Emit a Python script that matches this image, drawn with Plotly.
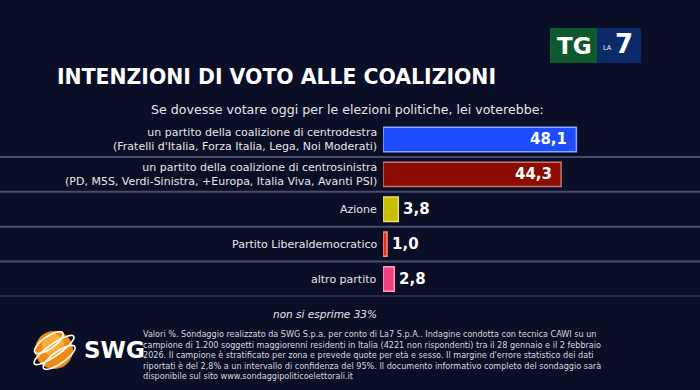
import math
import plotly.graph_objects as go

# ---------------- data ----------------
categories = [
    "un partito della coalizione di centrodestra<br>(Fratelli d'Italia, Forza Italia, Lega, Noi Moderati)",
    "un partito della coalizione di centrosinistra<br>(PD, M5S, Verdi-Sinistra, +Europa, Italia Viva, Avanti PSI)",
    "Azione",
    "Partito Liberaldemocratico",
    "altro partito",
]
values = [48.1, 44.3, 3.8, 1.0, 2.8]
bar_colors = ["#1c4eff", "#8a0c03", "#c9bd00", "#d9331f", "#f23f7d"]
border_colors = ["#8fa6ff", "#c8776f", "#e9e07a", "#ff8a78", "#ff9fc0"]

title = "INTENZIONI DI VOTO ALLE COALIZIONI"
subtitle = "Se dovesse votare oggi per le elezioni politiche, lei voterebbe:"
no_answer = "non si esprime 33%"
footnote_lines = [
    "Valori %. Sondaggio realizzato da SWG S.p.a. per conto di La7 S.p.A.. Indagine condotta con tecnica CAWI su un",
    "campione di 1.200 soggetti maggiorenni residenti in Italia (4221 non rispondenti) tra il 28 gennaio e il 2 febbraio",
    "2026. Il campione è stratificato per zona e prevede quote per età e sesso. Il margine d'errore statistico dei dati",
    "riportati è del 2,8% a un intervallo di confidenza del 95%. Il documento informativo completo del sondaggio sarà",
    "disponibile sul sito www.sondaggipoliticoelettorali.it",
]

# ---------------- geometry helpers ----------------
W, H = 700, 390
BG = "#0a0e26"


def px(x):
    return x / W


def py(y):
    return 1 - y / H


fig = go.Figure()

fig.add_trace(go.Bar(
    y=categories,
    x=values,
    orientation="h",
    marker=dict(color=bar_colors, line=dict(color=border_colors, width=1.5)),
    hoverinfo="skip",
    showlegend=False,
))

annotations = []
shapes = []

# row labels and value labels
for cat, v in zip(categories, values):
    annotations.append(dict(
        x=px(379), xref="paper", y=cat, yref="y",
        text=cat, showarrow=False, xanchor="right", yanchor="middle", align="right",
        font=dict(family="DejaVu Sans", size=11, color="#e6e6ea"),
    ))
    txt = f"{v:.1f}".replace(".", ",")
    inside = v * 4.02 > 50
    annotations.append(dict(
        x=v, xref="x", y=cat, yref="y", text=f"<b>{txt}</b>", showarrow=False,
        xanchor="right" if inside else "left", xshift=-7 if inside else 3,
        yanchor="middle",
        font=dict(family="DejaVu Sans", size=15, color="white"),
    ))

# separators below each row
for i in range(len(categories)):
    shapes.append(dict(type="line", xref="paper", x0=0, x1=1, yref="y",
                       y0=i + 0.5, y1=i + 0.5, line=dict(color="#484d6e", width=2),
                       layer="below"))

# title & subtitle
annotations.append(dict(x=px(55), y=py(77), xref="paper", yref="paper", text=f"<b>{title}</b>",
                        showarrow=False, xanchor="left", yanchor="middle",
                        font=dict(family="DejaVu Sans", size=20.4, color="white")))
annotations.append(dict(x=px(149), y=py(109), xref="paper", yref="paper", text=subtitle,
                        showarrow=False, xanchor="left", yanchor="middle",
                        font=dict(family="DejaVu Sans", size=12.6, color="#e6e6ea")))
annotations.append(dict(x=px(379), y=py(314), xref="paper", yref="paper", text=f"<i>{no_answer}</i>",
                        showarrow=False, xanchor="right", yanchor="middle",
                        font=dict(family="DejaVu Sans", size=10.5, color="#e6e6ea")))
annotations.append(dict(x=px(141), y=py(355), xref="paper", yref="paper",
                        text="<br>".join(footnote_lines), showarrow=False,
                        xanchor="left", yanchor="middle", align="left",
                        font=dict(family="DejaVu Sans", size=8.1, color="#d8d8de")))

# TG LA7 logo
shapes.append(dict(type="rect", xref="paper", yref="paper", x0=px(550), x1=px(597),
                   y0=py(63), y1=py(28), fillcolor="#0e5a2c", line=dict(width=0)))
shapes.append(dict(type="rect", xref="paper", yref="paper", x0=px(597), x1=px(641),
                   y0=py(63), y1=py(28), fillcolor="#0b2a68", line=dict(width=0)))
annotations.append(dict(x=px(574), y=py(45.5), xref="paper", yref="paper", text="<b>TG</b>",
                        showarrow=False, xanchor="center", yanchor="middle",
                        font=dict(family="DejaVu Sans", size=23, color="white")))
annotations.append(dict(x=px(607), y=py(48), xref="paper", yref="paper", text="LA",
                        showarrow=False, xanchor="center", yanchor="middle",
                        font=dict(family="DejaVu Sans", size=6.5, color="white")))
annotations.append(dict(x=px(624), y=py(44), xref="paper", yref="paper", text="<b>7</b>",
                        showarrow=False, xanchor="center", yanchor="middle",
                        font=dict(family="DejaVu Sans", size=26, color="white")))

# SWG logo: sphere with orbit rings
cx, cy, r = 54, 350, 19
shapes.append(dict(type="circle", xref="paper", yref="paper", x0=px(cx - r), x1=px(cx + r),
                   y0=py(cy + r), y1=py(cy - r), fillcolor="#ef8a12", line=dict(width=0)))
shapes.append(dict(type="circle", xref="paper", yref="paper", x0=px(cx - 12), x1=px(cx + 10),
                   y0=py(cy + 6), y1=py(cy - 16), fillcolor="#f8ad3c", line=dict(width=0)))


def ellipse_path(ecx, ecy, rx, ry, ang_deg, t0=0, t1=360, n=60):
    a = math.radians(ang_deg)
    pts = []
    for k in range(n + 1):
        t = math.radians(t0 + (t1 - t0) * k / n)
        ex, ey = rx * math.cos(t), ry * math.sin(t)
        x = ecx + ex * math.cos(a) - ey * math.sin(a)
        y = ecy + ex * math.sin(a) + ey * math.cos(a)
        pts.append((px(x), py(y)))
    return "M " + " L ".join(f"{x:.5f},{y:.5f}" for x, y in pts)


for off, rx in [(-9, 17), (0, 24), (9, 19)]:
    a = math.radians(-35)
    ox, oy = -off * math.sin(a), off * math.cos(a)
    shapes.append(dict(type="path", xref="paper", yref="paper",
                       path=ellipse_path(cx + ox, cy + oy, rx, 6, -35),
                       line=dict(color="white", width=1.6)))
annotations.append(dict(x=px(82), y=py(350), xref="paper", yref="paper", text="<b>SWG</b>",
                        showarrow=False, xanchor="left", yanchor="middle",
                        font=dict(family="DejaVu Sans", size=23, color="white")))

fig.update_layout(
    width=W, height=H,
    margin=dict(l=0, r=0, t=0, b=0),
    paper_bgcolor=BG, plot_bgcolor=BG,
    bargap=0.3,
    xaxis=dict(domain=[px(383), 1], range=[0, (W - 383) / 4.02], visible=False, fixedrange=True),
    yaxis=dict(domain=[py(296.5), py(122)], type="category", range=[len(categories) - 0.5, -0.5],
               visible=False, fixedrange=True),
    annotations=annotations,
    shapes=shapes,
    showlegend=False,
)

fig.write_html(
    "out.html",
    config={"displayModeBar": False, "staticPlot": True},
    post_script="document.body.style.margin='0';document.body.style.background='" + BG + "';",
)
